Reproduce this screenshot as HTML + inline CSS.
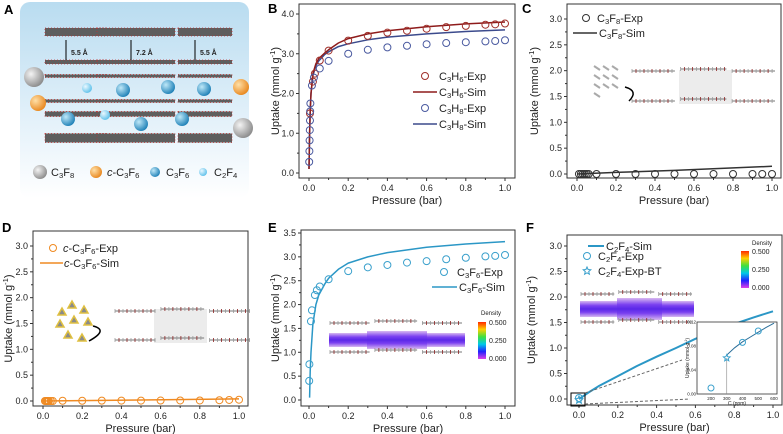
<!DOCTYPE html>
<html><head><meta charset="utf-8"><style>
body{margin:0;background:#fff}
svg{display:block;font-family:"Liberation Sans",Arial,sans-serif}
</style></head><body>
<svg id="fig" width="783" height="434" viewBox="0 0 783 434">
<defs>
<linearGradient id="bgA" x1="0" y1="0" x2="0" y2="1"><stop offset="0" stop-color="#b9dcf0"/><stop offset="0.6" stop-color="#e3f1fa"/><stop offset="1" stop-color="#ffffff"/></linearGradient>
<radialGradient id="gGray" cx="0.35" cy="0.35" r="0.7"><stop offset="0" stop-color="#f4f4f4"/><stop offset="1" stop-color="#8a8a8a"/></radialGradient>
<radialGradient id="gOr" cx="0.35" cy="0.35" r="0.7"><stop offset="0" stop-color="#ffe0a8"/><stop offset="1" stop-color="#e8861c"/></radialGradient>
<radialGradient id="gBl" cx="0.35" cy="0.35" r="0.7"><stop offset="0" stop-color="#bfe8f8"/><stop offset="1" stop-color="#1c7fb6"/></radialGradient>
<radialGradient id="gLb" cx="0.35" cy="0.35" r="0.7"><stop offset="0" stop-color="#eaf8ff"/><stop offset="1" stop-color="#5cc0ea"/></radialGradient>
<linearGradient id="cbar" x1="0" y1="0" x2="0" y2="1"><stop offset="0" stop-color="#ff2a00"/><stop offset="0.2" stop-color="#ffd000"/><stop offset="0.4" stop-color="#40e040"/><stop offset="0.6" stop-color="#00c8e8"/><stop offset="0.8" stop-color="#2020ff"/><stop offset="1" stop-color="#e040e8"/></linearGradient>
<linearGradient id="band" x1="0" y1="0" x2="0" y2="1"><stop offset="0" stop-color="#d8b8f0"/><stop offset="0.3" stop-color="#7a40f0"/><stop offset="0.5" stop-color="#5a28e8"/><stop offset="0.7" stop-color="#7a40f0"/><stop offset="1" stop-color="#d8b8f0"/></linearGradient>
</defs>
<g id="root"></g>
</svg>
<script>
// ---------- data ----------
const bX_C3H6exp=[0.005,0.02,0.03,0.055,0.1,0.2,0.3,0.4,0.5,0.6,0.7,0.8,0.9,0.95,1.0];
const bY_C3H6exp=[1.5,2.3,2.5,2.83,3.08,3.33,3.45,3.53,3.58,3.63,3.67,3.70,3.73,3.74,3.76];
const bX_C3H6sim=[0,0.003,0.006,0.01,0.02,0.035,0.05,0.08,0.1,0.15,0.2,0.3,0.4,0.6,0.8,1.0];
const bY_C3H6sim=[0.1,1.0,1.55,2.0,2.5,2.75,2.88,3.02,3.1,3.27,3.38,3.5,3.58,3.68,3.75,3.8];
const bX_C3H8exp=[0.001,0.002,0.003,0.004,0.005,0.006,0.007,0.015,0.025,0.055,0.1,0.2,0.3,0.4,0.5,0.6,0.7,0.8,0.9,0.95,1.0];
const bY_C3H8exp=[0.28,0.55,0.82,1.08,1.32,1.55,1.75,2.2,2.4,2.63,2.82,3.0,3.1,3.16,3.2,3.24,3.27,3.29,3.31,3.32,3.34];
const bX_C3H8sim=[0,0.003,0.006,0.01,0.02,0.035,0.05,0.08,0.1,0.15,0.2,0.3,0.4,0.6,0.8,1.0];
const bY_C3H8sim=[0.1,1.0,1.55,2.0,2.45,2.7,2.82,2.98,3.05,3.18,3.25,3.35,3.42,3.5,3.56,3.6];
const cX_exp=[0.01,0.02,0.03,0.04,0.05,0.06,0.1,0.2,0.3,0.4,0.5,0.6,0.7,0.8,0.9,0.95,1.0];
const cY_exp=[0,0,0,0,0,0,0,0,0,0,0,0,0,0,0,0,0];
const cX_sim=[0,0.2,0.5,1.0];
const cY_sim=[0,0.03,0.07,0.15];
const dX_exp=[0.01,0.015,0.02,0.025,0.03,0.04,0.05,0.1,0.2,0.3,0.4,0.5,0.6,0.7,0.8,0.9,0.95,1.0];
const dY_exp=[0,0,0,0,0,0,0,0.005,0.005,0.007,0.008,0.008,0.009,0.01,0.01,0.015,0.02,0.025];
const dX_sim=[0,0.5,1.0];
const dY_sim=[0,0.02,0.04];
const eX_exp=[0.001,0.002,0.01,0.015,0.03,0.04,0.055,0.1,0.2,0.3,0.4,0.5,0.6,0.7,0.8,0.9,0.95,1.0];
const eY_exp=[0.4,0.75,1.65,1.88,2.2,2.3,2.38,2.53,2.7,2.78,2.83,2.88,2.91,2.95,2.98,3.01,3.02,3.04];
const eX_sim=[0.003,0.006,0.01,0.02,0.035,0.05,0.08,0.1,0.15,0.2,0.3,0.4,0.6,0.8,1.0];
const eY_sim=[0.05,0.6,1.0,1.6,2.0,2.2,2.43,2.55,2.74,2.87,3.0,3.09,3.2,3.27,3.32];
const fX_sim=[0,0.05,0.1,0.2,0.3,0.4,0.5,0.6,0.7,0.8,0.9,1.0];
const fY_sim=[0,0.13,0.25,0.45,0.65,0.83,1.0,1.18,1.33,1.47,1.6,1.72];
const fX_exp=[0.0];
const fY_exp=[0.02];
const fInsetX_exp=[200,400,500];
const fInsetY_exp=[0.01,0.086,0.105];
const fInsetX_bt=[300];
const fInsetY_bt=[0.06];
const fInsetX_sim=[300,350,400,450,500,550,600];
const fInsetY_sim=[0.065,0.077,0.087,0.095,0.103,0.111,0.118];
const xTicks=[0,0.2,0.4,0.6,0.8,1.0];
const xTickLabels=["0.0","0.2","0.4","0.6","0.8","1.0"];

// ---------- helpers ----------
const NS='http://www.w3.org/2000/svg';
const root=document.getElementById('root');
function mk(tag,attrs,name,parent){
  const el=document.createElementNS(NS,tag);
  for(const k in attrs) el.setAttribute(k,attrs[k]);
  
  
  (parent||root).appendChild(el);
  return el;
}
function txt(x,y,s,size,name,opt){
  opt=opt||{};
  const t=mk('text',{x:x,y:y,'font-size':size,fill:opt.fill||'#222','text-anchor':opt.anchor||'start','font-weight':opt.bold?'bold':'normal'},name,opt.parent);
  if(opt.rot) t.setAttribute('transform','rotate(-90 '+x+' '+y+')');
  const parts=s.split(/(\{[_^~][^}]*\})/);
  parts.forEach(p=>{
    if(!p) return;
    const ts=document.createElementNS(NS,'tspan');
    if(p[0]==='{'){
      ts.textContent=p.slice(2,-1);
      if(p[1]==='~'){ts.setAttribute('font-style','italic');}
      else{
        ts.setAttribute('font-size',size*0.7);
        ts.setAttribute('baseline-shift',p[1]==='_'?'-25%':'45%');
      }
    } else ts.textContent=p;
    t.appendChild(ts);
  });
  return t;
}
function axes(o){
  const sx=v=>o.x0+(v-o.xmin)/(o.xmax-o.xmin)*(o.x1-o.x0);
  const sy=v=>o.y0-(v-o.ymin)/(o.ymax-o.ymin)*(o.y0-o.y1);
  mk('rect',{x:o.L,y:o.T,width:o.R-o.L,height:o.B-o.T,fill:'none',stroke:'#333','stroke-width':1},o.id+'-frame');
  xTicks.forEach((v,i)=>{
    mk('line',{x1:sx(v),x2:sx(v),y1:o.B,y2:o.B+3,stroke:'#333'},o.id+'-x-tick');
    if(i<xTicks.length-1) mk('line',{x1:sx(v+0.1),x2:sx(v+0.1),y1:o.B,y2:o.B+2,stroke:'#333'},o.id+'-x-minor-tick');
    txt(sx(v),o.B+13,xTickLabels[i],9,o.id+'-x-tick-label',{anchor:'middle'});
  });
  o.yt.forEach((v,i)=>{
    mk('line',{x1:o.L-3,x2:o.L,y1:sy(v),y2:sy(v),stroke:'#333'},o.id+'-y-tick');
    if(i<o.yt.length-1) mk('line',{x1:o.L-2,x2:o.L,y1:sy(v+o.ystep/2),y2:sy(v+o.ystep/2),stroke:'#333'},o.id+'-y-minor-tick');
    txt(o.L-5,sy(v)+3,v.toFixed(1),9,o.id+'-y-tick-label',{anchor:'end'});
  });
  txt((o.L+o.R)/2,o.B+26,'Pressure (bar)',11,o.id+'-x-axis-title',{anchor:'middle'});
  txt(o.yx,(o.T+o.B)/2,'Uptake (mmol g{^-1})',11,o.id+'-y-axis-title',{anchor:'middle',rot:true});
  return {sx,sy};
}
function line(ax,X,Y,color,w,name){
  mk('polyline',{points:X.map((x,i)=>ax.sx(x).toFixed(1)+','+ax.sy(Y[i]).toFixed(1)).join(' '),fill:'none',stroke:color,'stroke-width':w,'stroke-linejoin':'round'},name);
}
function circles(ax,X,Y,color,r,name){
  X.forEach((x,i)=>mk('circle',{cx:ax.sx(x),cy:ax.sy(Y[i]),r:r,fill:'none',stroke:color,'stroke-width':1},name));
}
function star(cx,cy,r,color,name){
  let p=[];for(let i=0;i<10;i++){const a=-Math.PI/2+i*Math.PI/5;const rr=i%2?r*0.45:r;p.push((cx+rr*Math.cos(a)).toFixed(1)+','+(cy+rr*Math.sin(a)).toFixed(1));}
  mk('polygon',{points:p.join(' '),fill:'none',stroke:color,'stroke-width':1},name);
}
function chain(x,y,w,name){
  mk('line',{x1:x,x2:x+w,y1:y,y2:y,stroke:'#777','stroke-width':1},name);
  for(let i=0;i<w;i+=4) mk('line',{x1:x+i,x2:x+i,y1:y-2,y2:y+2,stroke:i%8?'#8a2020':'#999','stroke-width':0.8},name+'-atom');
}
function slab(x,y,w){
  chain(x,y,w*0.3,'slab-chain');chain(x+w*0.34,y-2,w*0.32,'slab-chain');chain(x+w*0.7,y,w*0.3,'slab-chain');
}
function label(x,y,s){txt(x,y,s,13,'panel-label-'+s,{bold:true,fill:'#000'});}

// ---------- Panel A ----------
mk('rect',{x:20,y:2,width:229,height:196,rx:10,fill:'url(#bgA)'},'panel-a-background');
label(4,14,'A');
const layers=[[32,8],[62,4],[76,3],[101,3],[114,5],[138,9]];
layers.forEach(l=>{
  [[45,62],[97,78],[178,54]].forEach(s=>{
    mk('rect',{x:s[0],y:l[0]-l[1]/2,width:s[1],height:l[1],fill:'#5e5e5e',stroke:'#c03030','stroke-width':0.8,'stroke-dasharray':'1 2'},'graphene-layer');
  });
});
[[66,'5.5 Å'],[131,'7.2 Å'],[195,'5.5 Å']].forEach(a=>{
  mk('line',{x1:a[0],x2:a[0],y1:40,y2:60,stroke:'#000','stroke-width':1},'spacing-arrow');
  txt(a[0]+5,55,a[1],7,'spacing-label',{bold:true});
});
[[34,77,10,'gGray'],[243,128,10,'gGray'],[241,87,8,'gOr'],[38,103,8,'gOr'],[123,90,7,'gBl'],[168,87,7,'gBl'],[204,89,7,'gBl'],[68,119,7,'gBl'],[141,124,7,'gBl'],[182,119,7,'gBl'],[87,88,5,'gLb'],[105,115,5,'gLb']].forEach(b=>{
  mk('circle',{cx:b[0],cy:b[1],r:b[2],fill:'url(#'+b[3]+')'},'molecule-sphere');
});
[[40,7,'gGray','C{_3}F{_8}'],[96,6,'gOr','{~c}-C{_3}F{_6}'],[155,5,'gBl','C{_3}F{_6}'],[203,4,'gLb','C{_2}F{_4}']].forEach(l=>{
  mk('circle',{cx:l[0],cy:172,r:l[1],fill:'url(#'+l[2]+')'},'legend-a-marker');
  txt(l[0]+11,176,l[3],11,'legend-a-label');
});

// ---------- Panel B ----------
label(268,13,'B');
let ax=axes({id:'b',L:299,R:515,T:4,B:178,x0:309,x1:505,xmin:0,xmax:1,y0:173,y1:14,ymin:0,ymax:4,yt:[0,1,2,3,4],ystep:1,yx:279});
line(ax,bX_C3H8sim,bY_C3H8sim,'#3b4a8c',1.5,'c3h8-sim-line');
line(ax,bX_C3H6sim,bY_C3H6sim,'#8e1b1b',1.5,'c3h6-sim-line');
circles(ax,bX_C3H6exp,bY_C3H6exp,'#a0302a',3.5,'c3h6-exp-point');
circles(ax,bX_C3H8exp,bY_C3H8exp,'#4a5aa0',3.5,'c3h8-exp-point');
[['c',80,'#a0302a','C{_3}H{_6}-Exp'],['l',96,'#8e1b1b','C{_3}H{_6}-Sim'],['c',112,'#4a5aa0','C{_3}H{_8}-Exp'],['l',128,'#3b4a8c','C{_3}H{_8}-Sim']].forEach(e=>{
  if(e[0]==='c') mk('circle',{cx:425,cy:e[1]-4,r:3.5,fill:'none',stroke:e[2]},'legend-b-marker');
  else mk('line',{x1:413,x2:437,y1:e[1]-4,y2:e[1]-4,stroke:e[2],'stroke-width':1.5},'legend-b-line');
  txt(439,e[1],e[3],11,'legend-b-label');
});

// ---------- Panel C ----------
label(522,13,'C');
ax=axes({id:'c',L:567,R:781,T:4,B:178,x0:577,x1:772,xmin:0,xmax:1,y0:174,y1:19,ymin:0,ymax:3,yt:[0,0.5,1,1.5,2,2.5,3],ystep:0.5,yx:538});
line(ax,cX_sim,cY_sim,'#333',1.5,'c3f8-sim-line');
circles(ax,cX_exp,cY_exp,'#333',3.5,'c3f8-exp-point');
mk('circle',{cx:586,cy:18,r:3.5,fill:'none',stroke:'#333'},'legend-c-marker');
txt(597,22,'C{_3}F{_8}-Exp',11,'legend-c-label');
mk('line',{x1:573,x2:597,y1:33,y2:33,stroke:'#333','stroke-width':1.5},'legend-c-line');
txt(599,37,'C{_3}F{_8}-Sim',11,'legend-c-label');
mk('rect',{x:679,y:70,width:53,height:34,fill:'#ececec'},'pore-region-c');
slab(632,71,143);slab(632,101,143);
mk('path',{d:'M625,87 q14,4 4,14',fill:'none',stroke:'#000','stroke-width':1.5},'c-arrow');
for(let i=0;i<10;i++) mk('line',{x1:594+(i%3)*9,y1:66+Math.floor(i/3)*9,x2:600+(i%3)*9,y2:70+Math.floor(i/3)*9,stroke:'#aaa','stroke-width':2},'c3f8-molecule');

// ---------- Panel D ----------
label(2,232,'D');
ax=axes({id:'d',L:33,R:248,T:231,B:406,x0:43,x1:239,xmin:0,xmax:1,y0:401,y1:246,ymin:0,ymax:3,yt:[0,0.5,1,1.5,2,2.5,3],ystep:0.5,yx:12});
line(ax,dX_sim,dY_sim,'#ef8a22',1.5,'c-c3f6-sim-line');
circles(ax,dX_exp,dY_exp,'#ef8a22',3.5,'c-c3f6-exp-point');
mk('circle',{cx:53,cy:248,r:3.5,fill:'none',stroke:'#ef8a22'},'legend-d-marker');
txt(63,252,'{~c}-C{_3}F{_6}-Exp',11,'legend-d-label');
mk('line',{x1:40,x2:63,y1:263,y2:263,stroke:'#ef8a22','stroke-width':1.5},'legend-d-line');
txt(64,267,'{~c}-C{_3}F{_6}-Sim',11,'legend-d-label');
mk('rect',{x:154,y:309,width:53,height:34,fill:'#ececec'},'pore-region-d');
slab(115,311,135);slab(115,340,135);
mk('path',{d:'M93,326 q16,4 -4,15',fill:'none',stroke:'#000','stroke-width':1.5},'d-arrow');
[[62,312],[72,305],[84,310],[60,324],[74,320],[88,322],[68,335],[82,338]].forEach(p=>{
  mk('polygon',{points:p[0]+','+(p[1]-4)+' '+(p[0]+4)+','+(p[1]+3)+' '+(p[0]-4)+','+(p[1]+3),fill:'#8a8a8a',stroke:'#e0c040','stroke-width':1.5},'c-c3f6-molecule');
});

// ---------- Panel E ----------
label(268,232,'E');
ax=axes({id:'e',L:301,R:515,T:230,B:406,x0:309,x1:505,xmin:0,xmax:1,y0:400,y1:233,ymin:0,ymax:3.5,yt:[0,0.5,1,1.5,2,2.5,3,3.5],ystep:0.5,yx:279});
line(ax,eX_sim,eY_sim,'#2b97c6',1.5,'c3f6-sim-line');
circles(ax,eX_exp,eY_exp,'#3aa0cc',3.5,'c3f6-exp-point');
mk('circle',{cx:444,cy:272,r:3.5,fill:'none',stroke:'#3aa0cc'},'legend-e-marker');
txt(457,276,'C{_3}F{_6}-Exp',11,'legend-e-label');
mk('line',{x1:432,x2:457,y1:287,y2:287,stroke:'#2b97c6','stroke-width':1.5},'legend-e-line');
txt(459,291,'C{_3}F{_6}-Sim',11,'legend-e-label');
slab(330,323,132);
mk('rect',{x:329,y:333,width:136,height:14,fill:'url(#band)'},'density-band-e');
mk('rect',{x:367,y:331,width:60,height:18,fill:'url(#band)'},'density-band-e-center');
slab(330,352,132);
txt(481,315,'Density',6,'colorbar-e-title');
mk('rect',{x:478,y:322,width:8,height:37,fill:'url(#cbar)'},'colorbar-e');
['0.500','0.250','0.000'].forEach((s,i)=>txt(489,325+i*18,s,7,'colorbar-e-label'));

// ---------- Panel F ----------
label(526,232,'F');
ax=axes({id:'f',L:567,R:782,T:235,B:405,x0:579,x1:773,xmin:0,xmax:1,y0:399,y1:246,ymin:0,ymax:3,yt:[0,0.5,1,1.5,2,2.5,3],ystep:0.5,yx:535});
line(ax,fX_sim,fY_sim,'#2b97c6',2,'c2f4-sim-line');
circles(ax,fX_exp,fY_exp,'#3aa0cc',3.5,'c2f4-exp-point');
star(579,400,4,'#3aa0cc','c2f4-exp-bt-point');
mk('rect',{x:571,y:393,width:14,height:13,fill:'none',stroke:'#000','stroke-width':1},'zoom-box');
mk('line',{x1:585,y1:393,x2:682,y2:360,stroke:'#666','stroke-dasharray':'3 2'},'zoom-dash');
mk('line',{x1:585,y1:404,x2:690,y2:399,stroke:'#666','stroke-dasharray':'3 2'},'zoom-dash');
mk('line',{x1:588,x2:604,y1:246,y2:246,stroke:'#2b97c6','stroke-width':2},'legend-f-line');
txt(606,250,'C{_2}F{_4}-Sim',11,'legend-f-label');
mk('circle',{cx:587,cy:256,r:3.5,fill:'none',stroke:'#3aa0cc'},'legend-f-marker');
txt(598,260,'C{_2}F{_4}-Exp',11,'legend-f-label');
star(587,271,4,'#3aa0cc','legend-f-star');
txt(598,275,'C{_2}F{_4}-Exp-BT',11,'legend-f-label');
slab(581,294,111);
mk('rect',{x:580,y:301,width:114,height:16,fill:'url(#band)'},'density-band-f');
mk('rect',{x:617,y:298,width:45,height:22,fill:'url(#band)'},'density-band-f-center');
slab(581,322,111);
txt(752,245,'Density',6,'colorbar-f-title');
mk('rect',{x:741,y:251,width:8,height:37,fill:'url(#cbar)'},'colorbar-f');
['0.500','0.250','0.000'].forEach((s,i)=>txt(752,254+i*18,s,7,'colorbar-f-label'));
// inset
const iL=697,iR=777,iT=322,iB=394;
const isx=v=>711+(v-200)/400*(iR-3-711);
const isy=v=>iB-v/0.12*(iB-iT);
mk('rect',{x:iL,y:iT,width:iR-iL,height:iB-iT,fill:'#fff',stroke:'#333','stroke-width':0.8},'inset-frame');
[200,300,400,500,600].forEach(v=>txt(isx(v),iB+6,String(v),4.5,'inset-x-tick-label',{anchor:'middle'}));
[0,0.04,0.08,0.12].forEach(v=>txt(iL-1,isy(v)+1.5,v.toFixed(2),4.5,'inset-y-tick-label',{anchor:'end'}));
txt(737,iB+11,'C (ppm)',5,'inset-x-axis-title',{anchor:'middle'});
txt(689,358,'Uptake (mmol g{^-1})',5,'inset-y-axis-title',{anchor:'middle',rot:true});
mk('line',{x1:isx(300),x2:isx(300),y1:isy(0.06),y2:iB,stroke:'#888','stroke-width':0.6},'inset-guide');
mk('polyline',{points:fInsetX_sim.map((x,i)=>isx(x).toFixed(1)+','+isy(fInsetY_sim[i]).toFixed(1)).join(' '),fill:'none',stroke:'#2b6f9a','stroke-width':1},'inset-sim-line');
fInsetX_exp.forEach((x,i)=>mk('circle',{cx:isx(x),cy:isy(fInsetY_exp[i]),r:3,fill:'none',stroke:'#3aa0cc'},'inset-exp-point'));
fInsetX_bt.forEach((x,i)=>star(isx(x),isy(fInsetY_bt[i]),3.5,'#3aa0cc','inset-bt-point'));
</script>
</body></html>
